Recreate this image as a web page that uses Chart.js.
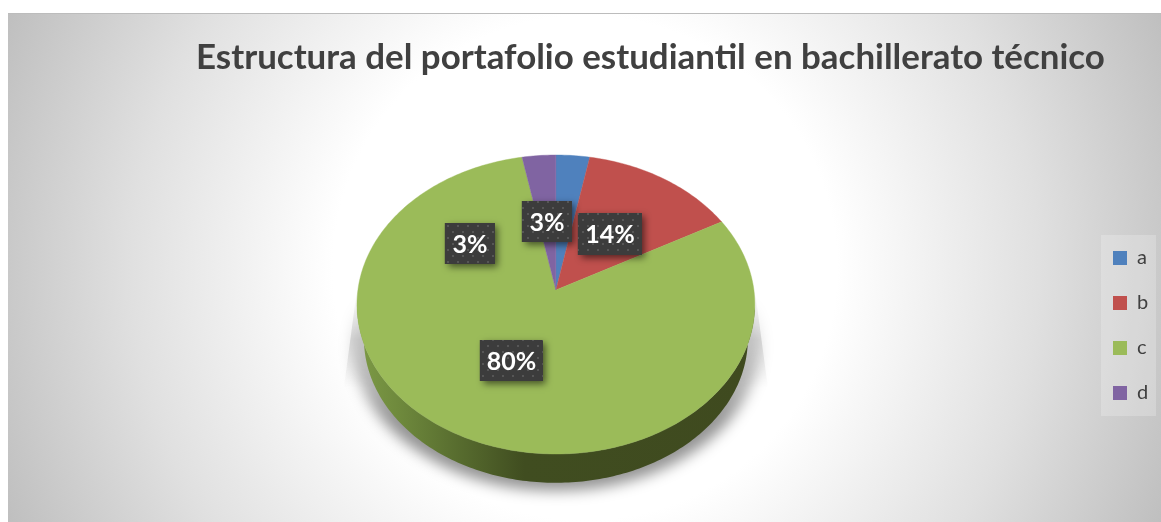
<!DOCTYPE html>
<html><head><meta charset="utf-8">
<style>html,body{margin:0;padding:0;background:#fff}canvas{display:block}</style>
<script src="https://cdn.jsdelivr.net/npm/chart.js@4"></script>
</head><body><canvas id="c" width="1161" height="522"></canvas>
<script>
const categories = ['a','b','c','d'];
const shares = [3,14,80,3];
const sliceColors = ['#4f81bd','#c0504d','#9bbb59','#8064a2'];
const titleText = 'Estructura del portafolio estudiantil en bachillerato técnico';
// label box centre offsets from the pie apex, and box sizes (px)
const labelDx = [-9,54,-44.5,-86];
const labelDy = [-68.5,-56,70.5,-46.5];
const labelW = [50,64,63,50];
const labelH = [41,42,41,41];

// perspective of the tilted disc
const PERSP = -0.097, SQUASH = 0.748, WALL_SCALE = 0.965, FACE_CY = 14.5, WALL_CY = 48.5;
function project(el, a){
  const u = Math.cos(a), v = Math.sin(a), w = 1 + PERSP*v, R = el.outerRadius;
  return {x: R*u/w, y: R*SQUASH*v/w};
}
Chart.ArcElement.prototype.draw = function(ctx){
  const {x, y, startAngle, endAngle, options} = this;
  const n = Math.max(4, Math.ceil((endAngle-startAngle)*60));
  const rim = [];
  for (let i=0;i<=n;i++){ const a = startAngle+(endAngle-startAngle)*i/n; rim.push({a, p:project(this,a)}); }
  // side wall: only the part of the rim that faces the viewer
  const front = rim.filter(r => Math.sin(r.a) >= -PERSP);
  if (front.length > 1){
    const R = this.outerRadius;
    const g = ctx.createLinearGradient(x-R,0,x+R,0);
    g.addColorStop(0,'#7d9a46'); g.addColorStop(.1,'#6f8a3d'); g.addColorStop(.25,'#586d2f');
    g.addColorStop(.42,'#404d20'); g.addColorStop(1,'#3f4a1f');
    ctx.beginPath();
    front.forEach((r,i)=>{ i ? ctx.lineTo(x+r.p.x,y+r.p.y) : ctx.moveTo(x+r.p.x,y+r.p.y); });
    for (let i=front.length-1;i>=0;i--){ const p=front[i].p;
      ctx.lineTo(x+p.x*WALL_SCALE, y+WALL_CY+(p.y-FACE_CY)*WALL_SCALE); }
    ctx.closePath(); ctx.fillStyle=g; ctx.fill();
  }
  ctx.beginPath(); ctx.moveTo(x,y);
  rim.forEach(r=>ctx.lineTo(x+r.p.x,y+r.p.y));
  ctx.closePath();
  ctx.fillStyle = options.backgroundColor; ctx.fill();
  ctx.strokeStyle = options.backgroundColor; ctx.lineWidth=.4; ctx.stroke();
};

const stage = {
  id:'stage',
  afterLayout(chart){
    const l = chart.legend, t = chart.titleBlock;
    l.left = 1088; l.right = 1173;
    l.top = 223; l.bottom = 430;
    t.left = 196; t.right = 1161;
  },
  beforeDraw(chart){
    const c = chart.ctx;
    c.save();
    c.fillStyle='#fff'; c.fillRect(0,0,1161,522);
    const g = c.createRadialGradient(585,268,0,585,268,630);
    g.addColorStop(0,'#ffffff'); g.addColorStop(.4,'#ffffff'); g.addColorStop(.72,'#e0e0e0'); g.addColorStop(1,'#bfbfbf');
    c.fillStyle=g; c.fillRect(8,13,1153,509);
    c.fillStyle='#bcbcbc'; c.fillRect(8,13,1153,1);
    c.fillStyle='rgba(255,255,255,.22)'; c.fillRect(1101,235,55,181);
    c.restore();
  },
  beforeDatasetsDraw(chart){
    const el = chart.getDatasetMeta(0).data[0], c = chart.ctx;
    const cx = el.x, cy = el.y;
    // thin side wedges of the cast shadow
    c.save();
    const w = c.createLinearGradient(0,cy,0,cy+98);
    w.addColorStop(0,'rgba(0,0,0,0)'); w.addColorStop(.5,'rgba(0,0,0,.12)'); w.addColorStop(1,'rgba(0,0,0,0)');
    c.fillStyle=w;
    c.beginPath();
    c.moveTo(cx-199,cy); c.lineTo(cx+199,cy); c.lineTo(cx+212,cy+98); c.lineTo(cx-212,cy+98);
    c.closePath(); c.fill();
    c.restore();
    // soft shadow round the lower rim
    c.save();
    const g = c.createLinearGradient(0,cy+10,0,cy+130);
    g.addColorStop(0,'rgba(0,0,0,0)'); g.addColorStop(1,'rgba(0,0,0,.42)');
    c.filter='blur(7px)'; c.fillStyle=g;
    c.beginPath(); c.ellipse(cx,cy+52,204,149,0,0,Math.PI*2); c.fill();
    c.restore();
  },
  afterDatasetsDraw(chart){
    const el = chart.getDatasetMeta(0).data[0], c = chart.ctx;
    const tile = document.createElement('canvas'); tile.width=10; tile.height=12;
    const tc = tile.getContext('2d');
    tc.fillStyle='#3c3c3c'; tc.fillRect(0,0,10,12);
    tc.fillStyle='#565656'; tc.fillRect(2,3,2,2); tc.fillRect(7,9,2,2);
    const pat = c.createPattern(tile,'repeat');
    shares.forEach((v,i)=>{
      const cx = el.x+labelDx[i], cy = el.y+labelDy[i], w = labelW[i], h = labelH[i];
      c.save();
      c.shadowColor='rgba(0,0,0,.55)'; c.shadowBlur=7; c.shadowOffsetX=3; c.shadowOffsetY=3;
      c.fillStyle='#3c3c3c'; c.fillRect(cx-w/2,cy-h/2,w,h);
      c.restore();
      c.save();
      c.fillStyle=pat; c.fillRect(cx-w/2,cy-h/2,w,h);
      c.fillStyle='#fff'; c.font='bold 25px Lato'; c.textAlign='center'; c.textBaseline='middle';
      c.fillText(v+'%',cx,cy+1);
      c.restore();
    });
  }
};

new Chart(document.getElementById('c'),{
  type:'pie',
  data:{labels:categories,datasets:[{data:shares,backgroundColor:sliceColors,borderWidth:0}]},
  options:{
    responsive:false,animation:false,
    layout:{padding:{left:21,right:0,top:0,bottom:34}},
    plugins:{
      title:{display:true,text:titleText,align:'start',color:'#404040',
        font:{family:'Lato',size:34.9,weight:'bold',lineHeight:1.2},padding:{top:37,bottom:13.12}},
      legend:{display:true,position:'right',align:'start',
        labels:{boxWidth:14,boxHeight:14,padding:25,color:'#404040',font:{family:'Lato',size:20}}},
      tooltip:{enabled:false}
    }
  },
  plugins:[stage]
});
</script></body></html>
